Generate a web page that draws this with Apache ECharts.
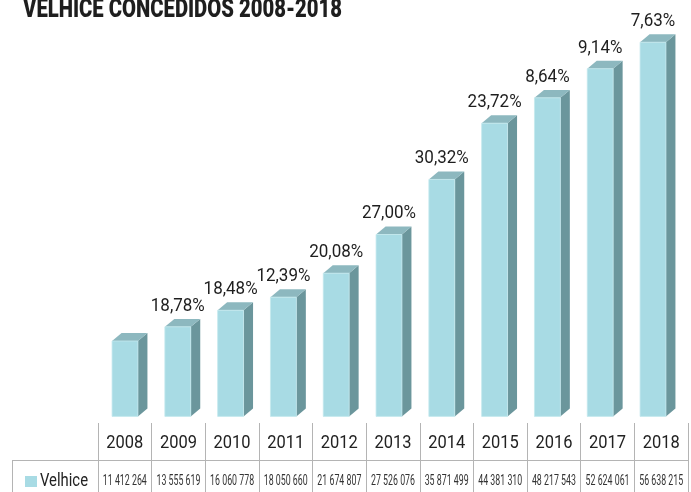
<!DOCTYPE html>
<html>
<head>
<meta charset="utf-8">
<script src="https://cdn.jsdelivr.net/npm/echarts@6/dist/echarts.min.js"></script>
<style>
html,body{margin:0;padding:0;background:#fff;}
#main{width:691px;height:492px;}
</style>
</head>
<body>
<div id="main"></div>
<script>
const years = ['2008','2009','2010','2011','2012','2013','2014','2015','2016','2017','2018'];
const values = [11412264, 13555619, 16060778, 18050660, 21674807, 27526076, 35871499, 44381310, 48217543, 52624061, 56638215];
const growth = [null, 18.78, 18.48, 12.39, 20.08, 27.00, 30.32, 23.72, 8.64, 9.14, 7.63];
const seriesName = 'Velhice';
const titleText = 'VELHICE CONCEDIDOS 2008-2018';

const FONT = 'Roboto, "Liberation Sans", sans-serif';
const LINE = '#b4b4b4';
const TXT = '#222';

function fmtNum(v){ return String(v).replace(/\B(?=(\d{3})+(?!\d))/g, ' '); }
function fmtPct(v){ return v.toFixed(2).replace('.', ',') + '%'; }

// horizontal condensing factors (no condensed font installed)
const mctx = document.createElement('canvas').getContext('2d');
function fitScale(text, font, target){ mctx.font = font; return target / mctx.measureText(text).width; }
const sTitle = fitScale(titleText, '900 25px ' + FONT, 319);
const sPct = fitScale('12,39%', '19px ' + FONT, 54);
const sYear = fitScale('2008', '18px ' + FONT, 37);
const sVal = fitScale('11 412 264', '14.5px ' + FONT, 44);
const sName = fitScale('Velhice', '18px ' + FONT, 48);

const chart = echarts.init(document.getElementById('main'), null, {renderer:'canvas'});

const option = {
  animation: false,
  backgroundColor: '#fff',
  grid: [
    {left: 98, right: 3, top: 20, bottom: 76},
    {left: 98.6, right: 11.6, top: 20, bottom: 75.6}
  ],
  xAxis: [
    { type: 'category', gridIndex: 0, data: years, position: 'bottom', offset: 44,
      axisLine: {show: true, onZero: false, lineStyle: {color: LINE, width: 1}},
      axisTick: {show: true, interval: 0, inside: true, length: 37, lineStyle: {color: LINE, width: 1}},
      axisLabel: {show: false},
      splitLine: {show: false}
    },
    { type: 'category', gridIndex: 0, data: years, position: 'bottom', offset: 76,
      axisLine: {show: false, onZero: false},
      axisTick: {show: true, interval: 0, inside: true, length: 32, lineStyle: {color: LINE, width: 1}},
      axisLabel: {show: false},
      splitLine: {show: false}
    },
    { type: 'category', gridIndex: 1, data: years, show: false }
  ],
  yAxis: [
    {type: 'value', gridIndex: 0, min: 0, max: 60000000, show: false},
    {type: 'value', gridIndex: 1, min: 0, max: 60000000, show: false}
  ],
  series: [
  {
    name: seriesName,
    type: 'custom',
    xAxisIndex: 2, yAxisIndex: 1,
    data: years.map((y, i) => [i, values[i], growth[i] == null ? -1 : growth[i]]),
    renderItem: function(params, api){
      const xi = api.value(0), v = api.value(1), g = api.value(2);
      const top = api.coord([xi, v]);
      const base = api.coord([xi, 0]);
      const cw = api.size([1, 0])[0];
      const w = cw * 0.49;
      const dx = cw * 0.18, dy = cw * 0.15;
      const x0 = top[0] - w/2, x1 = top[0] + w/2;
      const yt = top[1], yb = base[1];
      const children = [
        {type:'polygon', shape:{points:[[x1,yt],[x1+dx,yt-dy],[x1+dx,yb-dy],[x1,yb]]},
          style:{fill:'#6b969c'}},
        {type:'polygon', shape:{points:[[x0,yt],[x0+dx,yt-dy],[x1+dx,yt-dy],[x1,yt]]},
          style:{fill:'#8db8bf'}},
        {type:'rect', shape:{x:x0, y:yt, width:w, height:yb-yt},
          style:{fill:'#a8dbe4', stroke:'#c4e8ee', lineWidth:0.8}}
      ];
      if (g >= 0) {
        children.push({type:'text', x: top[0], y: yt - dy - 13, scaleX: sPct,
          style:{text: fmtPct(g), x: 0, y: 0, align:'center', verticalAlign:'middle',
            font: '19px ' + FONT, fill:'#1e1e1e'}});
      }
      return {type:'group', children: children};
    }
  },
  {
    name: 'table',
    type: 'custom',
    xAxisIndex: 0, yAxisIndex: 0,
    silent: true,
    clip: false,
    data: years.map((y, i) => [i, 0]),
    renderItem: function(params, api){
      const i = api.value(0);
      const p = api.coord([i, 0]);
      return {type:'group', children:[
        {type:'text', x: p[0], y: p[1] + 27, scaleX: sYear,
          style:{text: years[i], x:0, y:0, align:'center', verticalAlign:'middle', font:'18px ' + FONT, fill: TXT}},
        {type:'text', x: p[0], y: p[1] + 65.5, scaleX: sVal,
          style:{text: fmtNum(values[i]), x:0, y:0, align:'center', verticalAlign:'middle', font:'14.5px ' + FONT, fill: '#333'}}
      ]};
    }
  }],
  graphic: [
    {type:'text', x: 23, y: 11, scaleX: sTitle,
      style:{text: titleText, x:0, y:0, align:'left', verticalAlign:'middle', font:'900 25px ' + FONT, fill:'#1e1e1e'}},
    {type:'line', shape:{x1:12, y1:460.5, x2:98, y2:460.5}, style:{stroke:LINE, lineWidth:1}},
    {type:'line', shape:{x1:12.5, y1:460, x2:12.5, y2:492}, style:{stroke:LINE, lineWidth:1}},
    {type:'rect', shape:{x:25, y:476, width:12, height:11}, style:{fill:'#a8dbe4'}},
    {type:'text', x:40, y:481.5, scaleX: sName,
      style:{text: seriesName, x:0, y:0, align:'left', verticalAlign:'middle', font:'18px ' + FONT, fill: TXT}}
  ]
};
chart.setOption(option);
</script>
</body>
</html>
